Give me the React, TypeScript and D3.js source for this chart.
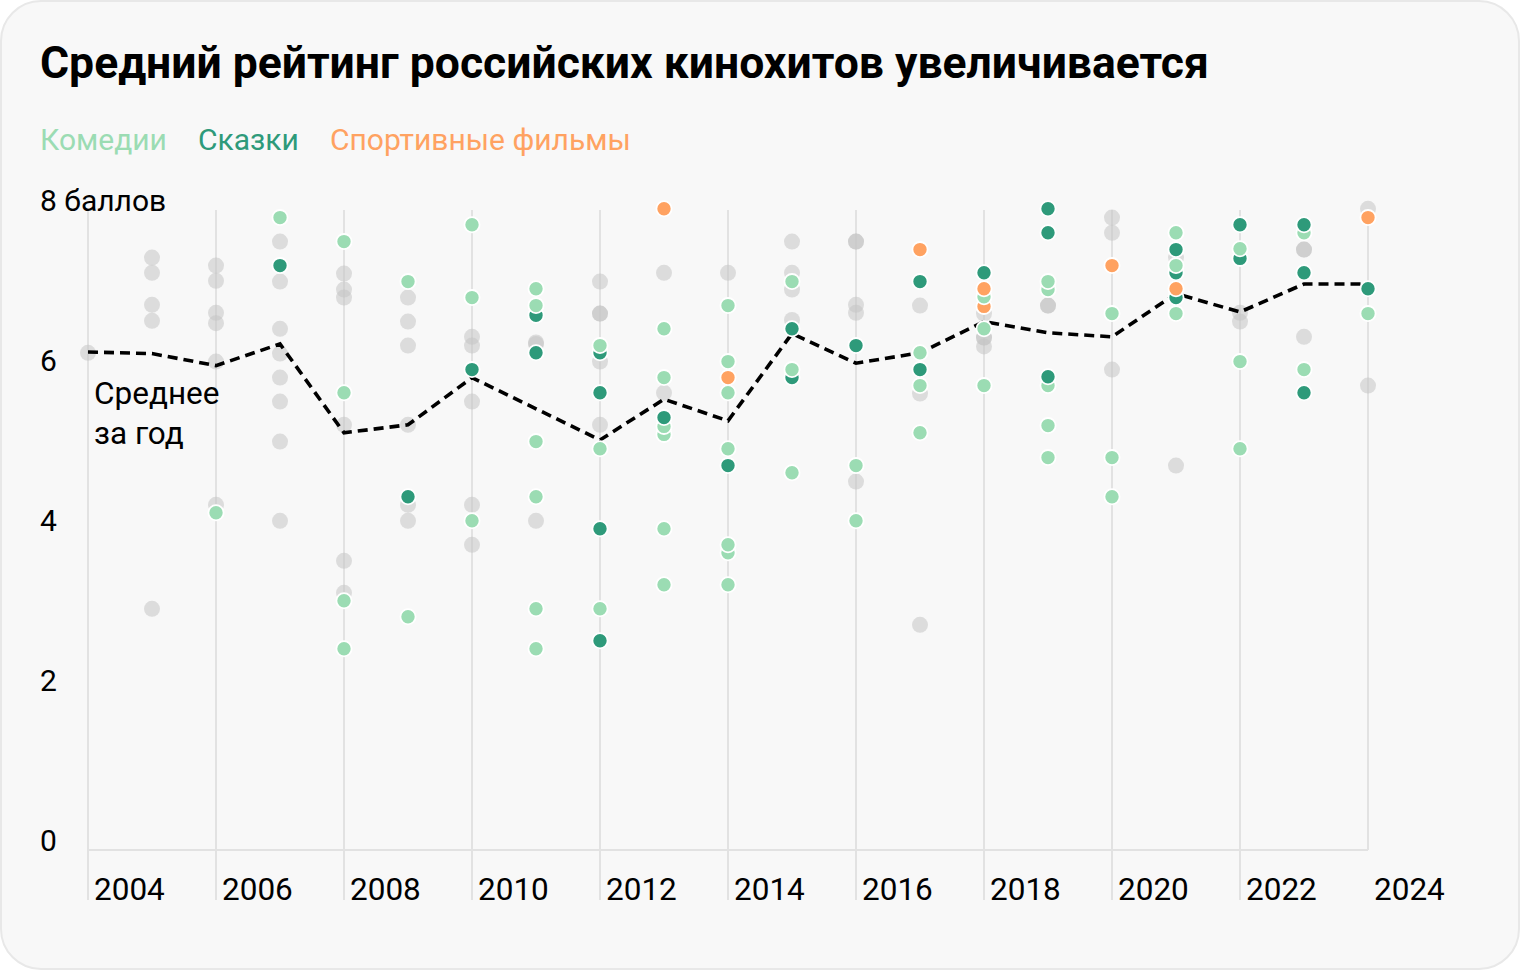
import React from "react";
import * as d3 from "d3";

// ---- data (year, rating) ----
const otherFilms: [number, number][] = [
  [2004, 6.09],
  [2005, 7.28], [2005, 7.09], [2005, 6.69], [2005, 6.49], [2005, 2.89],
  [2006, 7.18], [2006, 6.99], [2006, 6.59], [2006, 6.46], [2006, 5.98], [2006, 4.19],
  [2007, 7.48], [2007, 6.98], [2007, 6.39], [2007, 6.08], [2007, 5.78], [2007, 5.48], [2007, 4.98], [2007, 3.99],
  [2008, 7.08], [2008, 6.88], [2008, 6.78], [2008, 5.19], [2008, 3.49], [2008, 3.09],
  [2009, 6.78], [2009, 6.48], [2009, 6.18], [2009, 5.19], [2009, 4.19], [2009, 3.99],
  [2010, 6.29], [2010, 6.18], [2010, 5.48], [2010, 4.19], [2010, 3.69],
  [2011, 6.22], [2011, 6.2], [2011, 3.99],
  [2012, 6.98], [2012, 6.58], [2012, 6.58], [2012, 5.98], [2012, 5.19],
  [2013, 7.09], [2013, 5.59],
  [2014, 7.09],
  [2015, 7.48], [2015, 7.09], [2015, 6.88], [2015, 6.5],
  [2016, 7.48], [2016, 7.48], [2016, 6.69], [2016, 6.59], [2016, 4.48],
  [2017, 6.68], [2017, 5.58], [2017, 2.69],
  [2018, 6.58], [2018, 6.28], [2018, 6.28], [2018, 6.17],
  [2019, 6.68], [2019, 6.68],
  [2020, 7.78], [2020, 7.59], [2020, 5.88],
  [2021, 7.28], [2021, 4.68],
  [2022, 6.59], [2022, 6.48],
  [2023, 7.38], [2023, 7.38], [2023, 6.29],
  [2024, 7.89], [2024, 5.68],
];

const comedies: [number, number][] = [
  [2006, 4.09],
  [2007, 7.78],
  [2008, 7.48], [2008, 5.59], [2008, 2.99], [2008, 2.39],
  [2009, 6.98], [2009, 2.79],
  [2010, 7.69], [2010, 6.78], [2010, 3.99],
  [2011, 6.89], [2011, 6.68], [2011, 4.98], [2011, 4.29], [2011, 2.89], [2011, 2.39],
  [2012, 6.18], [2012, 4.89], [2012, 2.89],
  [2013, 6.39], [2013, 5.78], [2013, 5.17], [2013, 5.07], [2013, 3.89], [2013, 3.19],
  [2014, 6.68], [2014, 5.98], [2014, 5.59], [2014, 4.89], [2014, 3.69], [2014, 3.59], [2014, 3.19],
  [2015, 6.98], [2015, 5.88], [2015, 4.59],
  [2016, 4.68], [2016, 3.99],
  [2017, 6.09], [2017, 5.68], [2017, 5.09],
  [2018, 6.79], [2018, 6.39], [2018, 5.68],
  [2019, 6.98], [2019, 6.88], [2019, 5.68], [2019, 5.18], [2019, 4.78],
  [2020, 6.58], [2020, 4.78], [2020, 4.29],
  [2021, 7.59], [2021, 7.18], [2021, 6.58],
  [2022, 7.39], [2022, 5.98], [2022, 4.89],
  [2023, 7.59], [2023, 5.88],
  [2024, 6.58],
];

const fairyTales: [number, number][] = [
  [2007, 7.18],
  [2009, 4.29],
  [2010, 5.88],
  [2011, 6.56], [2011, 6.09],
  [2012, 6.09], [2012, 5.59], [2012, 3.89], [2012, 2.49],
  [2013, 5.28],
  [2014, 4.68],
  [2015, 6.39], [2015, 5.78],
  [2016, 6.18],
  [2017, 6.98], [2017, 5.88],
  [2018, 7.09],
  [2019, 7.89], [2019, 7.59], [2019, 5.79],
  [2021, 7.38], [2021, 7.09], [2021, 6.78],
  [2022, 7.69], [2022, 7.27],
  [2023, 7.69], [2023, 7.09], [2023, 5.59],
  [2024, 6.89],
];

const sportsFilms: [number, number][] = [
  [2013, 7.89],
  [2014, 5.78],
  [2017, 7.38],
  [2018, 6.89], [2018, 6.67],
  [2020, 7.18],
  [2021, 6.89],
  [2024, 7.78],
];

const meanYears = [2004, 2005, 2006, 2007, 2008, 2009, 2010, 2011, 2012, 2013, 2014, 2015, 2016, 2017, 2018, 2019, 2020, 2021, 2022, 2023, 2024];
const meanValues = [6.1, 6.08, 5.93, 6.2, 5.09, 5.19, 5.78, 5.39, 5.0, 5.51, 5.24, 6.33, 5.96, 6.09, 6.48, 6.34, 6.29, 6.83, 6.6, 6.95, 6.95];

const yearTicks = [2004, 2006, 2008, 2010, 2012, 2014, 2016, 2018, 2020, 2022, 2024];
const yTicks = [0, 2, 4, 6, 8];

const title = "Средний рейтинг российских кинохитов увеличивается";
const legendItems = [
  { label: "Комедии", color: "#9bdcb3" },
  { label: "Сказки", color: "#2e9a7a" },
  { label: "Спортивные фильмы", color: "#ffa261" },
];

const W = 1520;
const H = 970;
const FONT = "Roboto, 'Liberation Sans', sans-serif";

export default function App() {
  const x = d3.scaleLinear().domain([2004, 2024]).range([88, 1368]);
  const y = d3.scaleLinear().domain([0, 8]).range([840, 200]);

  const colored = [
    ...comedies.map((d) => ({ year: d[0], v: d[1], color: legendItems[0].color })),
    ...fairyTales.map((d) => ({ year: d[0], v: d[1], color: legendItems[1].color })),
    ...sportsFilms.map((d) => ({ year: d[0], v: d[1], color: legendItems[2].color })),
  ].sort((a, b) => a.v - b.v);

  const line = d3
    .line<number>()
    .x((_, i) => x(meanYears[i]))
    .y((d) => y(d));

  const legendX = [40, 198, 330];

  return (
    <svg
      width={W}
      height={H}
      style={{ position: "absolute", left: 0, top: 0, background: "#fff" }}
      fontFamily={FONT}
    >
      <rect x={1} y={1} width={W - 2} height={H - 2} rx={40} ry={40} fill="#f8f8f8" stroke="#e8e8e8" strokeWidth={2} />
      <text x={40} y={78} fontSize={44.5} fontWeight={700} fill="#000">
        {title}
      </text>
      {legendItems.map((d, i) => (
        <text key={d.label} x={legendX[i]} y={150} fontSize={30} fill={d.color}>
          {d.label}
        </text>
      ))}

      {/* grid */}
      {yearTicks.map((t) => (
        <line
          key={t}
          x1={x(t)}
          x2={x(t)}
          y1={210}
          y2={t === 2024 ? 850 : 900}
          stroke="#e2e2e2"
          strokeWidth={2}
        />
      ))}
      <line x1={x(2004)} x2={x(2024)} y1={850} y2={850} stroke="#e2e2e2" strokeWidth={2} />

      {yTicks.map((t) => (
        <text key={t} x={40} y={y(t) + 11} fontSize={30} fill="#000">
          {t === 8 ? "8 баллов" : String(t)}
        </text>
      ))}
      {yearTicks.map((t) => (
        <text key={t} x={x(t) + 6} y={900} fontSize={31.5} fill="#000">
          {t}
        </text>
      ))}

      {otherFilms.map((d, i) => (
        <circle key={"o" + i} cx={x(d[0])} cy={y(d[1])} r={8} fill="#c4c4c4" fillOpacity={0.55} />
      ))}

      <path d={line(meanValues) || ""} fill="none" stroke="#000" strokeWidth={3.6} strokeDasharray="10 6" />

      {colored.map((d, i) => (
        <circle key={"c" + i} cx={x(d.year)} cy={y(d.v)} r={7.6} fill={d.color} stroke="#fff" strokeWidth={1.8} />
      ))}

      <text x={94} y={404} fontSize={31.5} fill="#000">
        Среднее
      </text>
      <text x={94} y={444} fontSize={31.5} fill="#000">
        за год
      </text>
    </svg>
  );
}
